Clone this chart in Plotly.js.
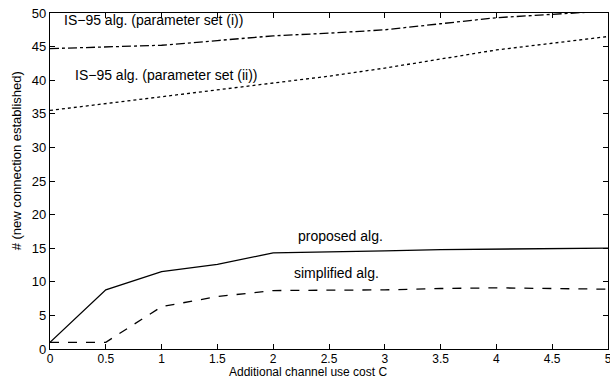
<!DOCTYPE html>
<html>
<head>
<meta charset="utf-8">
<script src="https://cdn.plot.ly/plotly-3.0.1.min.js"></script>
<style>
  html, body { margin: 0; padding: 0; background: #fff; }
  #chart { width: 610px; height: 380px; }
</style>
</head>
<body>
<div id="chart"></div>
<script>
// Additional channel use cost C
const costC = [0, 0.5, 1, 1.5, 2, 2.5, 3, 3.5, 4, 4.5, 5];

// Number of new connections established for each algorithm
const is95SetI   = [44.7, 44.9, 45.2, 45.9, 46.6, 47.0, 47.5, 48.4, 49.3, 49.8, 50.3];
const is95SetII  = [35.5, 36.5, 37.6, 38.5, 39.5, 40.6, 41.8, 43.2, 44.5, 45.5, 46.5];
const proposed   = [1.0, 8.8, 11.5, 12.6, 14.3, 14.4, 14.6, 14.8, 14.9, 15.0, 15.0];
const simplified = [1.0, 1.0, 6.3, 7.8, 8.7, 8.7, 8.8, 9.0, 9.1, 9.0, 8.9];

const xTicks = [0, 0.5, 1, 1.5, 2, 2.5, 3, 3.5, 4, 4.5, 5];
const yTicks = [0, 5, 10, 15, 20, 25, 30, 35, 40, 45, 50];

// Curve annotations: [x, y, text]
const curveLabels = [
  [0.11, 49.0, 'IS\u221295 alg. (parameter set (i))'],
  [0.21, 40.8, 'IS\u221295 alg. (parameter set (ii))'],
  [2.2, 16.8, 'proposed alg.'],
  [2.17, 11.3, 'simplified alg.']
];

const xTitle = 'Additional channel use cost C';
const yTitle = '# (new connection established)';

const lineStyle = (dash) => ({ color: '#000', width: 1.3, dash: dash });

const traces = [
  { x: costC, y: is95SetI,   mode: 'lines', line: lineStyle('dashdot'), name: 'IS-95 (i)' },
  { x: costC, y: is95SetII,  mode: 'lines', line: lineStyle('dot'),     name: 'IS-95 (ii)' },
  { x: costC, y: proposed,   mode: 'lines', line: lineStyle('solid'),   name: 'proposed' },
  { x: costC, y: simplified, mode: 'lines', line: lineStyle('dash'),    name: 'simplified' }
];

const fam = 'Liberation Sans, Arial, sans-serif';
const tickFont = { family: fam, size: 13, color: '#000' };
const textFont = { family: fam, size: 14, color: '#000' };

const commonAxis = {
  ticks: 'inside',
  ticklen: 5,
  tickcolor: '#000',
  showline: true,
  linecolor: '#000',
  linewidth: 1.2,
  mirror: 'ticks',
  showgrid: false,
  zeroline: false,
  tickfont: tickFont
};

const layout = {
  width: 610,
  height: 380,
  margin: { l: 50, r: 2, t: 13, b: 31 },
  paper_bgcolor: '#fff',
  plot_bgcolor: '#fff',
  showlegend: false,
  font: tickFont,
  xaxis: Object.assign({}, commonAxis, {
    range: [0, 5],
    tickvals: xTicks,
    ticktext: xTicks.map(String),
    tickfont: { family: fam, size: 12, color: '#000' },
    ticklabelstandoff: -2,
    ticklabeloverflow: 'allow'
  }),
  yaxis: Object.assign({}, commonAxis, {
    range: [0, 50],
    tickvals: yTicks,
    ticktext: yTicks.map(String)
  }),
  annotations: curveLabels.map(([x, y, t]) => ({
    x: x, y: y, xref: 'x', yref: 'y', text: t, showarrow: false,
    xanchor: 'left', yanchor: 'middle', font: textFont
  })).concat([
    {
      text: xTitle, xref: 'paper', yref: 'paper', x: 0.462, y: -0.092,
      xanchor: 'center', yanchor: 'bottom', showarrow: false, borderpad: 0,
      font: { family: fam, size: 12, color: '#000' }
    },
    {
      text: yTitle, xref: 'paper', yref: 'paper', x: -0.06, y: 0.56,
      xanchor: 'center', yanchor: 'middle', showarrow: false, textangle: -90,
      font: { family: fam, size: 13, color: '#000' }
    }
  ])
};

Plotly.newPlot('chart', traces, layout, { staticPlot: true, displayModeBar: false });
</script>
</body>
</html>
